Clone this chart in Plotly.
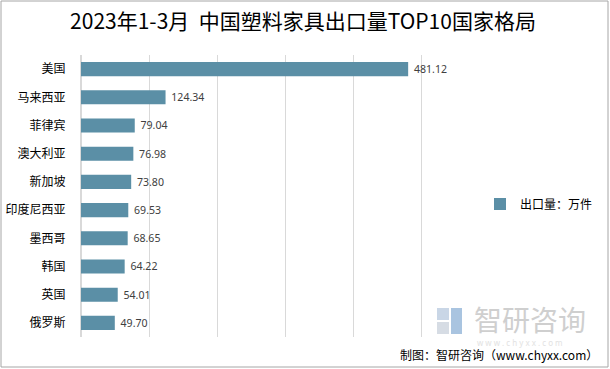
import plotly.graph_objects as go

countries = ["美国", "马来西亚", "菲律宾", "澳大利亚", "新加坡", "印度尼西亚", "墨西哥", "韩国", "英国", "俄罗斯"]
values = [481.12, 124.34, 79.04, 76.98, 73.80, 69.53, 68.65, 64.22, 54.01, 49.70]
value_labels = [f" {v:.2f}" for v in values]
series_name = "出口量：万件"

W, H = 610, 369
L, R, T, B = 81, 121, 55, 32
pw, ph = W - L - R, H - T - B

cjk = "Noto Sans CJK SC, Microsoft YaHei, sans-serif"

fig = go.Figure()
fig.add_trace(go.Bar(
    x=values, y=countries, orientation="h", name=series_name,
    marker=dict(color="#5B8FA6", line=dict(width=0)),
    text=value_labels, textposition="outside",
    textfont=dict(family="Noto Sans, sans-serif", size=13.5, color="#404040"),
    cliponaxis=False, showlegend=True,
))

def px2x(px):
    return (px - L) / pw

def py2y(py):
    return 1 - (py - T) / ph

fig.update_layout(
    width=W, height=H,
    margin=dict(l=L, r=R, t=T, b=B, autoexpand=False),
    paper_bgcolor="white", plot_bgcolor="white",
    bargap=0.5,
    title=dict(text="2023年1-3月  中国塑料家具出口量TOP10国家格局", x=(303) / W, xanchor="center",
               y=1 - 22 / H, yanchor="middle",
               font=dict(family=cjk, size=21, color="#000000")),
    xaxis=dict(range=[0, 600], dtick=100, showticklabels=False, showgrid=True,
               gridcolor="#D9D9D9", gridwidth=1, zeroline=True, zerolinecolor="#D9D9D9",
               showline=False, fixedrange=True, automargin=False),
    yaxis=dict(autorange="reversed", showgrid=False, showline=False, automargin=False,
               tickfont=dict(family=cjk, size=12, color="#000000"),
               ticks="outside", ticklen=12, tickcolor="rgba(0,0,0,0)"),
    legend=dict(x=px2x(480), y=py2y(204), xanchor="left", yanchor="middle",
                font=dict(family=cjk, size=12, color="#000000"),
                bgcolor="rgba(0,0,0,0)", itemwidth=30),
    showlegend=True,
    font=dict(family=cjk),
)

# outer border
fig.add_shape(type="rect", xref="paper", yref="paper",
              x0=px2x(1), x1=px2x(W - 2), y0=py2y(H - 2), y1=py2y(1),
              line=dict(color="#A6A6A6", width=1), fillcolor="rgba(0,0,0,0)", layer="below")

# watermark
fig.add_annotation(text="智研咨询", xref="paper", yref="paper", x=px2x(530), y=py2y(319),
                   showarrow=False, font=dict(family=cjk, size=28, color="#CFCFCF"),
                   xanchor="center", yanchor="middle")
fig.add_annotation(text="w w w . c h y x x . c o m", xref="paper", yref="paper", x=px2x(520), y=py2y(342),
                   showarrow=False, font=dict(family="Noto Sans, sans-serif", size=8, color="#E2E2E2"),
                   xanchor="center", yanchor="middle")
fig.add_shape(type="rect", xref="paper", yref="paper",
              x0=px2x(437), x1=px2x(449), y0=py2y(320), y1=py2y(308),
              line=dict(width=0), fillcolor="#C9D6E6", layer="above")
fig.add_shape(type="rect", xref="paper", yref="paper",
              x0=px2x(451), x1=px2x(462), y0=py2y(334), y1=py2y(308),
              line=dict(width=0), fillcolor="#A9C4E0", layer="above")
fig.add_shape(type="rect", xref="paper", yref="paper",
              x0=px2x(437), x1=px2x(449), y0=py2y(334), y1=py2y(322),
              line=dict(width=0), fillcolor="#D6DCE4", layer="above")
# source
fig.add_annotation(text="制图：智研咨询（www.chyxx.com）", xref="paper", yref="paper",
                   x=px2x(600), y=py2y(354), showarrow=False,
                   font=dict(family=cjk, size=12, color="#000000"),
                   xanchor="right", yanchor="middle")

fig.write_html("out.html", config={"displayModeBar": False},
               post_script="document.body.style.margin='0';document.body.style.overflow='hidden';")
